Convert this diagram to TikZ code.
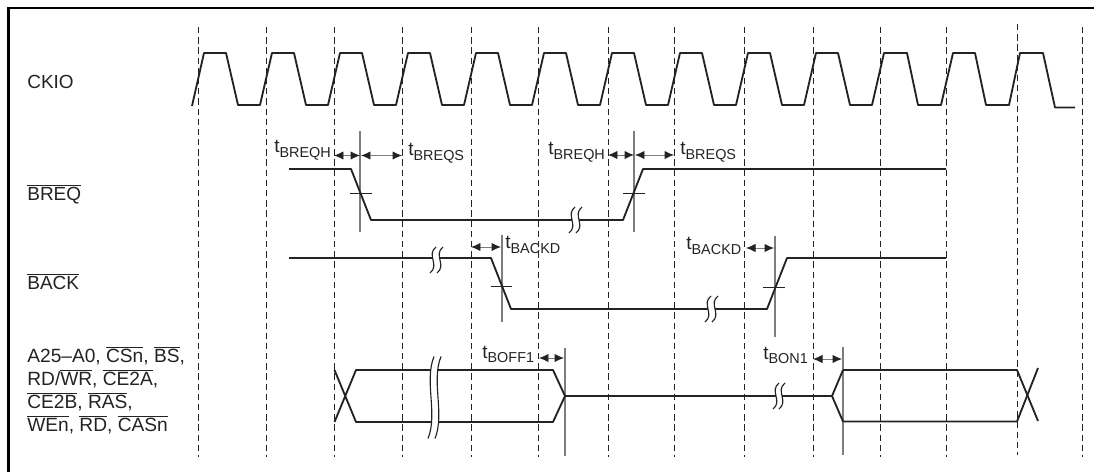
\documentclass[tikz,border=0pt]{standalone}
\usepackage{fontspec}
\setmainfont{Liberation Sans}
\usepackage{tikz}
\usetikzlibrary{arrows.meta}
\definecolor{softink}{RGB}{35,35,35}
\definecolor{softrule}{RGB}{125,125,125}
\newcommand{\barsig}[1]{$\overline{\mbox{#1}}$}
\newcommand{\tsub}[1]{t\raisebox{-0.42ex}{\fontsize{8.2}{9}\selectfont #1}}
\newcommand{\breakmark}[4]{%
    \fill[white] ({#1+3},{#2-#3}) .. controls ({#1-7},{#2-0.4*#3}) and ({#1+7},{#2+0.4*#3}) .. ({#1-3},{#2+#3})
        -- ({#1+#4-3},{#2+#3}) .. controls ({#1+#4+7},{#2+0.4*#3}) and ({#1+#4-7},{#2-0.4*#3}) .. ({#1+#4+3},{#2-#3}) -- cycle;
    \draw[breakline] ({#1+3},{#2-#3}) .. controls ({#1-7},{#2-0.4*#3}) and ({#1+7},{#2+0.4*#3}) .. ({#1-3},{#2+#3});
    \draw[breakline] ({#1+#4+3},{#2-#3}) .. controls ({#1+#4-7},{#2-0.4*#3}) and ({#1+#4+7},{#2+0.4*#3}) .. ({#1+#4-3},{#2+#3});
}

\begin{document}
\begin{tikzpicture}[
    x=0.02cm,
    y=-0.02cm,
    font=\fontsize{10.8}{13}\selectfont,
    frame/.style={
        line width=1.2pt,
        black
    },
    gridline/.style={
        line width=0.55pt,
        softink,
        dash pattern=on 3.6pt off 2.2pt
    },
    signal/.style={
        line width=1.05pt,
        softink,
        line join=round
    },
    floatline/.style={
        line width=0.7pt,
        softink
    },
    refline/.style={
        line width=0.7pt,
        softrule
    },
    tickline/.style={
        line width=0.45pt,
        softink
    },
    breakline/.style={
        line width=0.65pt,
        softink
    },
    timing/.style={
        {Latex[length=5.4pt,width=4.8pt,color=softink]}-{Latex[length=5.4pt,width=4.8pt,color=softink]},
        line width=0.55pt,
        softrule
    },
    label/.style={
        anchor=base west,
        inner sep=0pt,
        text=softink
    }
]
\useasboundingbox (0,0) rectangle (1094,472);

% ============================================================
% FRAME
% ============================================================

\draw[frame] (8.5,472) -- (8.5,8) -- (1094,8);

% ============================================================
% CLOCK GRID
% ============================================================

\draw[gridline] (198,27) -- (198,457);
\draw[gridline] (266,27) -- (266,457);
\draw[gridline] (334,27) -- (334,457);
\draw[gridline] (402,27) -- (402,457);
\draw[gridline] (471,27) -- (471,457);
\draw[gridline] (538,27) -- (538,457);
\draw[gridline] (608,27) -- (608,457);
\draw[gridline] (674,27) -- (674,457);
\draw[gridline] (744,27) -- (744,457);
\draw[gridline] (813,27) -- (813,457);
\draw[gridline] (880,27) -- (880,457);
\draw[gridline] (946,27) -- (946,457);
\draw[gridline] (1017,24) -- (1017,455);
\draw[gridline] (1082,27) -- (1082,457);

% ============================================================
% SIGNAL NAMES
% ============================================================

\node[label] (ckio) at (27,89) {CKIO};
\node[label] (breq) at (27,201) {\barsig{BREQ}};
\node[label] (back) at (27,290) {\barsig{BACK}};
\node[label,anchor=west,align=left,font=\fontsize{10.9}{13.1}\selectfont] (bus) at (27,390)
{A25--A0, \barsig{CSn}, \barsig{BS},\\
RD/\barsig{WR}, \barsig{CE2A},\\
\barsig{CE2B}, \barsig{RAS},\\
\barsig{WEn}, \barsig{RD}, \barsig{CASn}};

% ============================================================
% CKIO
% ============================================================

\draw[signal]
(192,106) -- (204,53) -- (226,53) -- (238,105) -- (260,105)
-- (272,53) -- (294,53) -- (306,105) -- (328,105)
-- (340,53) -- (362,53) -- (374,105) -- (396,105)
-- (408,53) -- (430,53) -- (442,105) -- (464,105)
-- (476,53) -- (498,53) -- (510,105) -- (532,105)
-- (544,53) -- (566,53) -- (578,105) -- (600,105)
-- (612,53) -- (634,53) -- (646,105) -- (668,105)
-- (680,53) -- (702,53) -- (714,105) -- (736,105)
-- (748,53) -- (770,53) -- (782,105) -- (804,105)
-- (816,53) -- (838,53) -- (850,105) -- (872,105)
-- (884,53) -- (907,53) -- (918,105) -- (941,105)
-- (953,53) -- (975,53) -- (986,105) -- (1009,105)
-- (1020,53) -- (1043,53) -- (1055,107.5) -- (1075,107.5);

% ============================================================
% BREQ
% ============================================================

\draw[refline] (360,131) -- (360,232);
\draw[refline] (634,131) -- (634,232);
\draw[signal] (289,169) -- (351,169) -- (371,220) -- (623,220) -- (643,169) -- (946,169);
\draw[tickline] (350,193) -- (372,193);
\draw[tickline] (623,193) -- (645,193);
\breakmark{572}{220}{13}{7}

\draw[timing] (334,155.5) -- (360,155.5);
\draw[timing] (361,155.5) -- (402,155.5);
\draw[timing] (608,155) -- (634,155);
\draw[timing] (635,155) -- (674,155);

\node[label] (breqh1) at (274,153) {\tsub{BREQH}};
\node[label] (breqs1) at (408,156) {\tsub{BREQS}};
\node[label] (breqh2) at (548,155) {\tsub{BREQH}};
\node[label] (breqs2) at (680,155) {\tsub{BREQS}};

% ============================================================
% BACK
% ============================================================

\draw[refline] (502,235) -- (502,322);
\draw[refline] (775,236) -- (775,337);
\draw[signal] (289,258) -- (491,258) -- (511,309) -- (767,309) -- (787,258) -- (946,258);
\draw[tickline] (491,286) -- (512,286);
\draw[tickline] (763,287) -- (785,287);
\breakmark{433}{260}{13}{7}
\breakmark{708}{309}{13}{7}

\draw[timing] (471,247) -- (501,247);
\draw[timing] (746,248) -- (774,248);

\node[label] (backd1) at (505,249) {\tsub{BACKD}};
\node[label] (backd2) at (686,250) {\tsub{BACKD}};

% ============================================================
% ADDRESS AND STROBES
% ============================================================

\draw[refline] (565,348) -- (565,456);
\draw[refline] (843,347) -- (843,455);

\draw[signal] (334.5,370) -- (356,422) -- (553,422) -- (565,396) -- (553,370) -- (356,370) -- (334.5,422);
\draw[floatline] (565,396) -- (832,396);
\draw[signal] (843,370) -- (832,396) -- (843,421.5) -- (1017,421.5) -- (1038,368);
\draw[signal] (843,370) -- (1017,370) -- (1038,421);
\breakmark{431}{397.5}{41}{7}
\breakmark{776}{396}{13}{6}

\draw[timing] (539,358) -- (564,358);
\draw[timing] (813,359) -- (842,359);

\node[label] (boff) at (482,358) {\tsub{BOFF1}};
\node[label] (bon) at (763,359) {\tsub{BON1}};

\end{tikzpicture}
\end{document}
